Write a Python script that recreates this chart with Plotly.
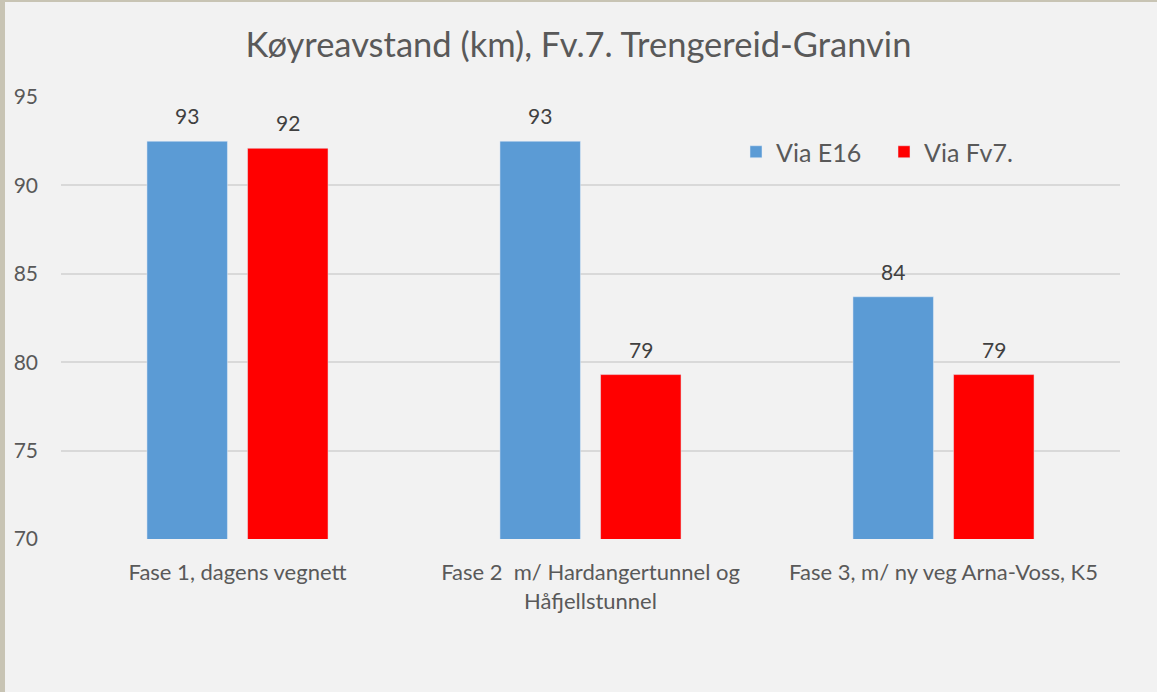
import plotly.graph_objects as go

categories = ["Fase 1, dagens vegnett",
              "Fase 2  m/ Hardangertunnel og<br>Håfjellstunnel",
              "Fase 3, m/ ny veg Arna-Voss, K5"]
via_e16 = [92.5, 92.5, 83.7]
via_fv7 = [92.1, 79.3, 79.3]
labels_e16 = ["93", "93", "84"]
labels_fv7 = ["92", "79", "79"]
y_ticks = [70, 75, 80, 85, 90, 95]

W, H = 1157, 692
ml, mr, mt, mb = 61, 37, 97, 153
FONT = "Lato, 'Open Sans', sans-serif"
bargap, bargroupgap = 0.43, 0.2
cat_px = (W - ml - mr) / len(categories)
slot_px = cat_px * (1 - bargap) / 2

fig = go.Figure()
fig.add_trace(go.Bar(name="Via E16", x=categories, y=via_e16,
                     marker_color="#5b9bd5"))
fig.add_trace(go.Bar(name="Via Fv7.", x=categories, y=via_fv7,
                     marker_color="#ff0000"))

annotations = []
for vals, labs, sgn in [(via_e16, labels_e16, -1), (via_fv7, labels_fv7, 1)]:
    for c, v, t in zip(categories, vals, labs):
        annotations.append(dict(x=c, y=v, text=t, showarrow=False,
                                xref="x", yref="y", yanchor="bottom",
                                xshift=sgn * slot_px / 2, yshift=11,
                                font=dict(size=21, color="#404040", family=FONT)))

fig.update_layout(
    width=W, height=H,
    margin=dict(l=ml, r=mr, t=mt, b=mb),
    paper_bgcolor="#f2f2f2", plot_bgcolor="#f2f2f2",
    barmode="group", bargap=bargap, bargroupgap=bargroupgap,
    font=dict(family=FONT, color="#595959"),
    title=dict(text="Køyreavstand (km), Fv.7. Trengereid-Granvin",
               x=0.5, xanchor="center", y=1 - 45 / H, yanchor="middle",
               font=dict(size=34.5, color="#595959", family=FONT)),
    legend=dict(orientation="h", x=(736 - ml) / (W - ml - mr), xanchor="left",
                y=(539 - 152) / (539 - 97), yanchor="middle",
                font=dict(size=25, color="#595959"), bgcolor="rgba(0,0,0,0)",
                entrywidth=103, entrywidthmode="pixels",
                traceorder="normal"),
    showlegend=True,
    annotations=annotations,
    xaxis=dict(showgrid=False, showline=False, ticks="", ticklabelstandoff=18,
               tickfont=dict(size=22, color="#595959")),
    yaxis=dict(range=[70, 95], tickvals=y_ticks, showgrid=True,
               gridcolor="#d9d9d9", gridwidth=1.5, zeroline=False,
               showline=False, ticks="", ticklabelstandoff=22,
               tickfont=dict(size=21, color="#595959")),
    shapes=[
        dict(type="rect", xref="paper", yref="paper",
             x0=-ml / (W - ml - mr), x1=-(ml - 5) / (W - ml - mr),
             y0=-mb / (H - mt - mb), y1=1 + mt / (H - mt - mb),
             fillcolor="#c8c4b4", line_width=0, layer="below"),
        dict(type="rect", xref="paper", yref="paper",
             x0=-ml / (W - ml - mr), x1=1 + mr / (W - ml - mr),
             y0=1 + (mt - 2) / (H - mt - mb), y1=1 + mt / (H - mt - mb),
             fillcolor="#c8c4b4", line_width=0, layer="below"),
    ],
)

fig.write_html("out.html", config={"displayModeBar": False},
               post_script="document.body.style.margin='0';document.body.style.overflow='hidden';")
